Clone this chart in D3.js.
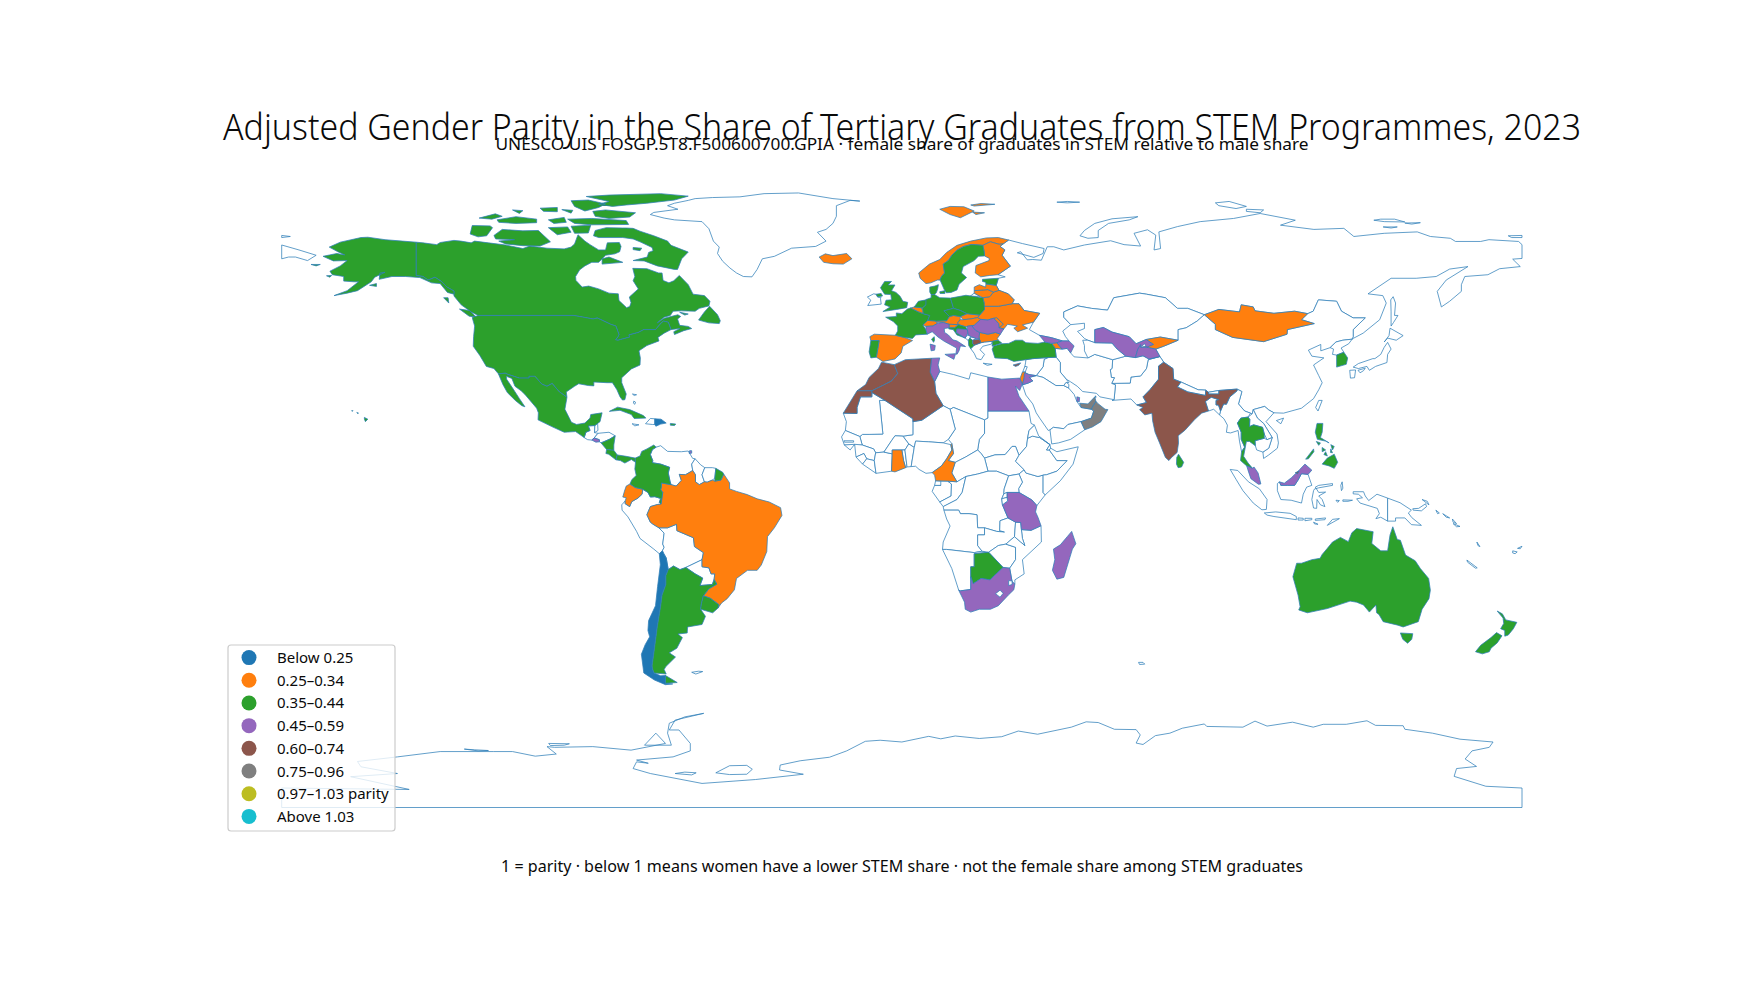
<!DOCTYPE html>
<html><head><meta charset="utf-8">
<script src="https://cdn.jsdelivr.net/npm/d3@7"></script>
<style>html,body{margin:0;background:#fff}svg{display:block}text{font-family:"Noto Sans",sans-serif;fill:#0a0a0a}</style>
</head><body><svg id="c" width="1760" height="990"></svg>
<script>
const chartTitle="Adjusted Gender Parity in the Share of Tertiary Graduates from STEM Programmes, 2023";
const chartSubtitle="UNESCO UIS FOSGP.5T8.F500600700.GPIA · female share of graduates in STEM relative to male share";
const chartNote="1 = parity · below 1 means women have a lower STEM share · not the female share among STEM graduates";
const tierLabels=["Below 0.25","0.25–0.34","0.35–0.44","0.45–0.59","0.60–0.74","0.75–0.96","0.97–1.03 parity","Above 1.03"];
const tierColors=["#1f77b4","#ff7f0e","#2ca02c","#9467bd","#8c564b","#7f7f7f","#bcbd22","#17becf"];

// Each entry: [name, ring, ring...]; a ring is a flat list lon,lat,lon,lat...
const noData=[
["Antarctica",[180,-84.5,169.5,-84,160.3,-81.2,161,-79,166.8,-78.4,163.5,-76.3,165.5,-74,170.5,-73,171.6,-71.5,162,-70.7,154,-69,146,-67.9,145.5,-66.9,137.5,-66.8,135,-65.5,129,-66.5,122.3,-66.5,119.4,-67.3,113.4,-65.9,106,-67,102.5,-65.6,99,-67.3,88.5,-67.1,87.8,-66.4,81.4,-67.6,77.8,-69,73.6,-69.7,70,-72.2,68,-71.8,69.2,-69.5,68,-68,61.7,-67.9,57,-66,53.5,-65.8,49.2,-67.3,39.4,-69.3,33.8,-68.4,29,-70,22.5,-70.5,15.5,-69.8,11.3,-70.6,7.8,-69.9,0,-71.5,-6.3,-71,-10.6,-71.3,-16,-74,-21,-75.8,-29.5,-76.8,-35.3,-78,-35.5,-79.4,-28.6,-80.6,-42.5,-82.1,-58,-83.2,-73,-80.4,-78,-79,-77,-77.1,-73.6,-77.5,-77,-76.6,-66.4,-75.7,-61.4,-74,-61.4,-71.9,-64.7,-68.1,-67.5,-68.1,-65.8,-65.3,-57.5,-63.4,-63,-64.4,-67.5,-66.2,-68,-69,-66.9,-72.4,-74.7,-72.4,-71.4,-69,-68.6,-71.9,-78.6,-73.8,-89.7,-72.8,-100.8,-73,-103,-72.8,-100.3,-74.9,-106.4,-75.5,-113,-74.2,-118.6,-74.2,-134,-74.2,-146.4,-75.7,-158,-77,-157,-78.5,-146.4,-80.4,-160,-81.3,-143,-84.9,-180,-84.5,-180,-90,180,-90],
 [-65.8,-80.4,-63,-80,-59.7,-80.2,-61,-80.8],[-54,-80.2,-50,-78.2,-45,-78.1,-43.4,-79.2,-45,-80.6,-50,-80.7],[-127,-73.5,-124,-73.7,-120,-73.9,-123,-74],[-102.5,-71.9,-96.5,-72,-98,-72.4,-102,-72.5]],
["Greenland",[-46,60,-43.5,59.9,-42,62,-40.5,65,-37,65.7,-32,68,-25,68.5,-22,70,-24.5,72.5,-22,73.3,-20,75,-19,77,-19,80,-15,81.5,-12.2,81.3,-20,82,-30,83.6,-40,83.4,-47,82.5,-55,82.3,-60,82,-62,81.5,-66,80.7,-68,80,-65,79,-72,78.1,-73,77.5,-69,76.5,-66,76,-58,75.5,-56,73.5,-54.7,70,-53,68.3,-53.5,66.5,-52,64.3,-49.9,62.4,-48,61]],
["Russia",[31,70.3,35,69.3,41.3,67.9,41,66.5,38.3,65.4,33.5,66.7,34.5,67,36.4,64.7,38,64.8,40.5,64.6,42.2,68.4,44.1,68.4,47,67.5,53,68.9,60.6,70.1,64.5,69,69.3,68.6,67.4,72.2,71.3,73.2,73.7,71.7,73.2,67.5,75.1,67.9,74.6,72.6,80,74.1,86.6,75.5,96.3,76.4,104,77.8,114.2,75.9,109.9,74.5,119.6,73.3,128.3,73.6,131.2,71.3,140,72.2,149.6,72.6,153.4,71.3,159.2,70.8,160.7,69.9,168,69.9,170.4,70.4,179,69.9,180,69,180,65.1,177.3,64.9,179.5,62.8,173.5,62.2,170.1,60.5,163.4,60,162.4,57.7,162.4,55.8,159,53,156.6,51.4,155.4,55.8,158,59,164.3,62.8,159,62.1,155.1,60,149.3,59.5,142,59.5,135.3,55.1,139.6,54.6,140.6,52.5,138.7,47.8,133.9,44,131,42.5,130.7,42.3,131,43,131,45,134.5,48.3,131,48.3,127.6,50.2,126.2,53,120.9,53.4,119.4,50.2,117.8,49.5,114,50.2,108,49.6,102.5,50.3,102,51.4,98.5,52,98,50,92,50.7,87.8,49.2,83,51,80,51,76.5,54,71,55,69,55.3,61.5,54,59.7,50.5,55,51,51,51.7,47,50,47,48.5,49,46.4,46.7,44.6,47.5,43,48.5,41.8,46.6,41.8,43.5,42.7,39.9,43.4,37,45,38.2,47.1,40,49.6,35.5,50.4,34,52.3,32,52.3,32.6,53.4,30.9,55.1,28.2,56.1,27.4,57.5,28,59.5,30,59.9,27.9,60.5,31.5,62.9,29.1,66,29.9,67.5,28.5,68.5,29.4,69.2],
 [-180,68.9,-175,67.5,-170,66,-172.5,64.5,-176,65.5,-178,65.5,-180,65],[21,55.3,22.7,54.4,19.8,54.4],[142.6,54.3,143.3,52.5,143,49,144,49,142.7,47,142,46,142,50,141.9,53.4],[51.7,71.5,53,73,56,75,61,76.3,68.5,76.9,66,76,60,75,57,73,57,71,54,70.8],[91,80.8,95,81.2,100,79.8,97,79.2,92,80],[100,79,105,78.8,104,78,100,78.4],[137,75.9,140,75.5,146,75.4,143,76.2,139,76.2],[146,75.1,150.5,75.2,148,74.8],[139.7,74,143.8,74,142,73.7],[176,71.5,180,71.6,180,71,177,71],[-180,71.6,-177.5,71.3,-180,71],[45,81,48,80.8,51.6,81,48,81.2]],
["Ireland",[-6.2,53.8,-6,52.2,-9.9,51.8,-9,53.3,-10,54.2,-8.2,55.1,-7.5,55,-7,54.2,-6,54]],
["Kazakhstan",[47,50,51,51.7,55,51,59.7,50.5,61.5,54,69,55.3,71,55,76.5,54,80,51,83,51,87.8,49.2,85.7,47.4,82.5,45.5,80.2,45,80.2,42,75,42.9,70.9,42.2,68,41,66,43,61,44.3,58.5,45.6,56,45,56,41.3,54,42,53,42.5,51,44.5,53,45.3,53,46.8,49,46.4,47,48.5]],
["China",[73.7,39.5,76,40.3,80.2,42,80.2,45,82.5,45.5,85.7,47.4,87.8,49.2,91,46.5,91,45,96,42.8,105,41.6,111.8,43.7,111.9,45,119.7,46.7,116,47.8,117.8,49.5,119.4,50.2,120.9,53.4,126.2,53,127.6,50.2,131,48.3,134.5,48.3,131,45,131,43,130.7,42.3,128,42,126,41.5,124.3,39.9,121.6,39,121.6,40.8,118,39.2,119,37.5,122.5,37,119.5,35,121,32,122,30,121,28,119.5,25.5,116,22.8,110.8,21.4,108,21.5,106.5,22.3,105.3,23.3,102,22.4,101.7,21.2,99.5,22,97.7,24,98.7,27.5,97.3,28.2,92,27.8,89,27.3,88.2,27.9,86,28,81,30.2,78.9,31,78.7,34,76,35.8,74.9,37.4],[121,25,122,25,120.8,22,120.1,23],[108.7,19.3,110.8,20,110,18.4]],
["Japan",[141,41.4,142,39.5,141,38,140.8,35.7,137.5,34.6,135.7,33.5,135,34.6,132.5,34,131,34.4,132.5,35.4,136.7,36.8,137.3,36.8,139,38,140,40],[130,33.5,131.7,33.6,131.4,31.4,130.2,31.3],[132.4,33.5,134.5,34.1,134,33.4,133,32.8],[140,41.5,141.4,43.3,141.7,45.4,145.5,43.3,143.5,42,141,42.6]],
["North Korea",[124.3,39.9,125.3,39.5,125,38,126.2,37.8,128.3,38.6,127.5,39.8,129.7,41,130.7,42.3,128,42,126,41.5]],
["Vietnam",[102,22.4,105.3,23.3,106.5,22.3,108,21.5,105.7,19,108.9,15.5,109.3,13,109,11.5,106.5,9.6,105,8.6,104.8,10.4,106.5,11.5,107.5,14.5,105,18.5,103.2,20]],
["Laos",[102,22.4,103.2,20,105,18.5,107.5,14.5,106,13.9,105.2,15.5,104.7,17.4,102.1,18.1,100.9,17.6,101,19.6,100.5,20.3,101.7,21.2]],
["Cambodia",[102.5,13.6,105.2,14.3,106,13.9,107.5,14.5,106.5,11.5,104.8,10.4,103,11,102.6,12.2]],
["Indonesia",[109,1.5,109.6,2,110,1,112,1,114,1,115,2.5,116,4.3,117.9,4.1,119,1,117.5,0.5,116.5,-1.5,116,-4,113,-3.2,110,-3,109,-0.5],[95.3,5.5,97.5,5.2,100.6,2,103.8,0,106,-3,105.8,-5.8,104.5,-5.9,102,-4,99,-0.5,97,2.7],[105.2,-6.8,108.5,-6.5,112.7,-6.9,114.5,-7.8,114.5,-8.7,108,-7.8,106,-7.4],[119.5,-5.4,120.4,-5.5,120.5,-3,121.5,-4.5,122.8,-5,122,-3,121,-2,123,-0.9,121,-1,120,0.5,121,1,125,1.5,125,1,121,0.3,119.8,0,119.5,-0.5,119,-3],[127.8,2,128,0.2,127.6,-0.5,127.4,1],[115,-8.2,116.5,-8.3,116.5,-8.8,115,-8.8],[117,-8.3,119,-8.3,119,-8.7,117,-9],[120,-8.5,123,-8.2,122.8,-8.7,120,-8.9],[123.5,-10.3,127,-8.4,125,-8.6],[119.5,-9.4,120.8,-10,119.8,-9.9],[128,-3.1,130.8,-3.2,129.5,-3.5,128,-3.5],[126,-3.2,127,-3.3,126.5,-3.8],[131,-0.8,134,-0.8,134.5,-2,135.5,-3.3,137.9,-1.5,141,-2.6,141,-9.1,139,-8,137.6,-8.4,138.6,-7,138,-5.5,133,-4,132,-2.8,133.7,-2.5,132.5,-1.5,131,-1.4]],
["Papua New Guinea",[141,-2.6,144.6,-3.9,147.9,-6,147,-6.8,148,-8.1,150.8,-10.3,147.9,-10.1,146,-8.2,143.3,-8.2,143.3,-9.1,141,-9.1],[148.3,-5.6,150,-5.5,152,-4.2,152.3,-5,150.8,-6.2,148.4,-6],[151,-3,153,-4.5,152.5,-3.5]],
["Solomon Islands",[155,-6,156,-6.8,155.5,-7],[157,-7,159,-8.2,158,-8],[159.8,-8.5,161,-9.8,160,-9.4],[160,-9.8,162,-10.6,161,-10.7]],
["Vanuatu",[166.9,-15,167.8,-16.3,167.2,-16]],["New Caledonia",[164,-20.1,167,-22.3,166.5,-22.4,164.2,-20.7]],["Fiji",[177.3,-17.5,178.6,-17.8,178,-18.3,177.3,-18.1],[178.7,-16.8,180,-16.2,179.5,-16.9]],
["Myanmar",[92.2,20.9,92.5,22,93.4,24,94.2,23.9,95.2,26,97.3,27.7,97.3,28.2,98.7,27.5,97.7,24,99.5,22,101.2,21.4,100.5,20.3,98.4,20,97.4,18.6,98.5,16,98.5,14,99.5,11.8,98.6,10.5,98,13.5,97.6,16.5,95.4,15.8,94.2,16,94.5,18,93.5,19.8]],
["Bangladesh",[88.1,24.7,89.8,25.9,92,25.2,91.2,25,91.2,23.7,91.9,23.7,92.5,22,92.2,20.9,90.5,22.5,89,22]],
["Nepal",[81,30.2,86,28,88.2,27.9,88.1,26.4,83,27.4,80,28.8]],["Bhutan",[89,26.8,89,27.3,92,27.8,92,26.8]],
["Pakistan",[61,25,61.6,25.2,62,29.4,60.9,29.8,66.3,29.9,66.5,31.6,69.3,31.9,71,34,71.5,36.5,74.9,37.4,76,35.8,74.5,34.7,74.5,33,74.5,31,72,28,70,26,71,24.4,68.2,23.7,66.5,25.4]],
["Afghanistan",[60.9,29.8,66.3,29.9,66.5,31.6,69.3,31.9,71,34,71.5,36.5,74.9,37.4,71.7,36.7,70,37.6,67.8,37.1,65,37.5,61.2,36.5,61,34,60.5,33.7,60.8,31.5,61.7,31.4]],
["Iran",[44.5,39.7,44.8,37.2,46,35.7,46,33,47.7,31,48.9,30.3,50.9,29,52.5,27.5,56.5,27,57.5,26,61.6,25.2,62,29.4,60.9,29.8,61.7,31.4,60.8,31.5,60.5,33.7,61,34,61.2,36.5,56,38,54,37,50,37.3,49,38.4,48,39.7,46.5,39.5]],
["Iraq",[42.4,37.1,44.8,37.2,46,35.7,46,33,47.7,31,48.5,30,47.7,30.1,47,29.2,44.7,29.2,41,31.5,39,32,41,34.5,41.3,36.6]],
["Syria",[36,36.5,38,36.8,42.4,37.1,41.3,36.6,41,34.5,39,32,36.9,32.3,35.8,32.8,35.7,34.6,35.9,35.6]],
["Lebanon",[35.1,33.1,35.7,34.6,36.4,34.5,35.8,33]],
["Saudi Arabia",[35,29.4,36.7,29.9,38,30.5,37,31.5,39,32,41,31.5,44.7,29.2,47,29.2,48.4,28.5,50,26.7,50.8,24.7,52,23,55,22.5,55.7,22,55,20,52,19,48.2,18.2,47,17,44,17.4,43,16.7,42.5,16.5,40,20,39,21.5,38,24,36,26.5]],
["Yemen",[43,16.7,44,17.4,47,17,48.2,18.2,52,19,53.1,16.7,49,14,45.5,13,43.5,12.7]],
["Kuwait",[47.7,30.1,48.5,29.5,48.4,28.5,47,29.2]],
["Turkmenistan",[52.5,42,54,42,56,41.3,61,41.2,62.5,39.5,65,37.5,61.2,36.5,56,38,54,37,53,39,53,40.5]],
["Greece",[20,39.6,21,40.6,23,41.3,24,41.5,26.3,41.7,26,40.9,23.5,40.3,22.7,39.3,24,38,23,36.5,21.7,36.8,21,38.3],[23.6,35.5,26.2,35.2,24.8,34.9]],
["Montenegro",[19.2,43.5,20.3,42.9,19.7,42.6,19.3,41.9,18.4,42.6,18.6,43]],["Kosovo",[20.3,42.9,21.6,42.5,20.8,42.1,20.5,42,19.7,42.6]],
["Guatemala",[-92.2,14.5,-91.7,16,-90.5,16.5,-91,17.8,-89.1,17.9,-89.2,15.9,-88.2,15.7,-89.3,14.4,-90,13.8,-91.2,13.9]],
["Belize",[-89.1,17.9,-88.3,18.5,-88.2,16.5,-89.2,15.9]],
["Honduras",[-89.3,14.4,-88.2,15.7,-85,16,-83.2,15,-84.9,14,-87.3,13,-87.8,13.3,-87.8,13.9]],
["Jamaica",[-78.3,18.4,-76.3,18.1,-77.5,17.8]],["Haiti",[-74.4,18.4,-73,19.9,-71.7,19.8,-71.7,18.2,-72.4,18.2]],
["Bahamas",[-78.2,26.8,-77,26.6,-77.7,26.4],[-77.8,24.8,-77.3,24.5,-77.5,23.9,-77.9,24.2]],
["Peru",[-80.3,-3.4,-81.3,-4.5,-81.2,-6,-79.5,-7.9,-77,-12,-76,-14,-72,-17,-70.4,-18.3,-69.5,-17.5,-69,-16.5,-69.4,-15.6,-69,-12.5,-70.5,-11,-72.2,-10,-73,-9.4,-74,-7.3,-73,-5,-70.9,-4.4,-69.9,-4.3,-70.4,-3.8,-70,-2.7,-71.7,-2.2,-73,-2.3,-73.7,-1,-75.2,-0.1,-75.4,-1.5,-76.6,-2.6,-78.4,-3.6,-79,-5,-80.3,-4.2]],
["Venezuela",[-71.3,11.8,-70,12.2,-68,10.6,-64,10.5,-62,10.7,-60.7,8.6,-60,8.5,-61,7,-60.7,5.2,-62.8,4,-64.6,4.1,-64,2.4,-65.5,0.8,-67,1.2,-67.3,2.2,-67.8,4.5,-67.4,6.1,-70,7,-72.4,7.4,-72.3,8,-73,9.7,-72.4,11.1]],
["Guyana",[-60,8.5,-58.4,6.8,-57.2,6,-58,4,-57.3,2,-58.8,1.2,-59.9,2,-59.9,4,-60.7,5.2,-61,7]],
["Suriname",[-57.2,6,-55,6,-54,5.8,-54.3,3,-55,2.5,-56.5,1.9,-57.3,2,-58,4]],
["Bolivia",[-69.5,-17.5,-69,-16.5,-69.4,-15.6,-69,-12.5,-70.5,-11,-68,-11,-65.4,-10,-65.3,-11.8,-60.5,-13.8,-60.2,-16.3,-57.6,-18,-58,-20,-62.7,-22.2,-64.4,-22.8,-66.3,-21.8,-67.8,-22.8,-68.4,-19.5,-69.1,-18.3]],
["Paraguay",[-58,-20,-58,-22,-56,-22.3,-55.4,-24,-54.3,-24,-54.5,-25.6,-55,-27,-58.6,-27.3,-57.8,-25.2,-60,-24,-62.7,-22.2]],
["Falkland Islands",[-61,-51.8,-59,-51.5,-57.8,-51.6,-59.8,-52.3]],["Kerguelen",[68.7,-49,70,-49,70.5,-49.5,69,-49.6]],
["Libya",[11,33.2,15,32.3,19.5,31,20,32.8,25,31.6,25,20,24,19.5,15,23,14,22.5,12,23.5,9.9,27,9.5,30.3]],
["Sudan",[25,22,36.9,22,37.5,18.5,38.5,18,36.9,16.5,36.5,14.3,36.2,12,34,9.5,33,12,32,12,30,9.7,27,9.6,24,8.7,23,10,22,11,22.5,14,24,15.7,24,19.5,25,20]],
["South Sudan",[24,8.7,27,9.6,30,9.7,32,12,33,12,34,9.5,33,7.8,35.5,5.4,34,4.2,31,3.7,27.5,5,25,5]],
["Chad",[24,19.5,15,23,14,22.5,15.5,16.9,13.5,14,14.5,12.8,15,10,13.5,8,15.5,7.5,18.5,9,22,11,22.5,14,24,15.7]],
["Niger",[12,23.5,14,22.5,15.5,16.9,13.5,14,12,13,7.8,13.3,4,13.5,3.6,11.7,2,12.7,0.3,14.9,3.2,15.3,3.2,19,5.8,19.4]],
["Mali",[-4.9,25,3.2,19.8,3.2,15.3,0.3,14.9,-2,15,-3,13.6,-5.2,10.4,-7.6,10.2,-8.2,11.3,-11.5,12.4,-12.2,14.8,-11.4,15.4,-9.5,15.4,-5.5,15.5,-6.5,25]],
["Mauritania",[-8.7,27.2,-4.9,25,-6.5,25,-5.5,15.5,-9.5,15.4,-11.4,15.4,-12.2,14.8,-16.4,16.5,-16.1,19,-17,21.4,-13,21.3,-13,23,-12,26,-8.7,26]],
["Senegal",[-16.4,16.5,-12.2,14.8,-11.5,12.4,-16.7,12.4,-17.5,14.7]],["Gambia",[-16.8,13.6,-14,13.6,-14,13.2,-16.7,13.2]],
["Guinea-Bissau",[-16.7,12.4,-13.7,12.6,-15,11]],
["Guinea",[-13.7,12.6,-11.5,12.4,-8.2,11.3,-7.6,10.2,-8,8,-10.2,8.5,-11,10,-13.3,9]],
["Sierra Leone",[-13.3,9,-11,10,-10.2,8.5,-11.4,7]],["Liberia",[-11.4,7,-10.2,8.5,-8,8,-7.5,4.4]],
["Ivory Coast",[-8,8,-7.6,10.2,-5.2,10.4,-2.8,9.9,-3,5,-7.5,4.4]],
["Burkina Faso",[-5.2,10.4,-3,13.6,-2,15,0.3,14.9,2,12.7,0.9,11,-2.8,11,-2.8,9.9]],
["Togo",[0,11,0.9,11,1.5,6.2,1.1,6,0.5,8]],["Benin",[0.9,11,2,12.7,3.6,11.7,2.7,6.3,1.5,6.2]],
["Nigeria",[2.7,6.3,3.6,11.7,4,13.5,7.8,13.3,12,13,14.2,12.5,14.5,11,13,8.5,11.5,6.5,8.8,4.6,7,4.4,5,5.5,4,6.4]],
["Central African Republic",[15.5,7.5,18.5,9,22,11,23,10,24,8.7,25,5,22,4.2,18.6,3.5,16,2,14.5,4.5]],
["Gabon",[9.8,2.3,11.3,2.2,13.3,2.2,14.4,1.4,14.3,-2,11,-3.7,8.8,-0.7,9.5,1,11.3,1]],["Equatorial Guinea",[9.5,1,9.8,2.3,11.3,2.2,11.3,1]],
["Congo",[13.3,2.2,16,2,18.6,3.5,17.5,-1,16,-3,12,-5,11,-3.7,14.3,-2,14.4,1.4]],
["DR Congo",[12.2,-6,12,-5,16,-3,17.5,-1,18.6,3.5,22,4.2,25,5,27.5,5,31,3.7,29.7,0,29.6,-1.4,29,-2.8,29.2,-4.5,30.8,-8.2,28.5,-9,28.4,-11.8,29.8,-12.2,27.5,-12,24,-11,22,-11,21.8,-7.3,19.5,-7,17,-7,16.5,-6]],
["Angola",[12.2,-6,16.5,-6,17,-7,19.5,-7,21.8,-7.3,22,-11,24,-11,24,-13,22,-13,22,-16,23.3,-17.6,21,-18,13,-17.1,11.8,-17.1,12,-15,14,-10.5,13,-8.5]],
["Namibia",[11.8,-17.1,13,-17.1,21,-18,23.3,-17.6,25.2,-17.9,21,-18.3,21,-22,20,-22,20,-28.4,17,-28.8,16.5,-28.6,14.5,-22.5]],
["Zambia",[22,-13,24,-13,24,-11,27.5,-12,29.8,-12.2,28.4,-11.8,28.5,-9,30.8,-8.2,33,-9.4,32.7,-13.5,30.2,-15.6,28,-16,25.2,-17.9,23.3,-17.6,22,-16]],
["Zimbabwe",[25.2,-17.9,28,-16,30.2,-15.6,33,-16.5,33,-20,31.3,-22.4,29.4,-22.2]],
["Mozambique",[30.2,-15.6,32.7,-13.5,34.5,-15,35.7,-16,35,-14,34.7,-11.5,37.5,-11.7,40.4,-10.4,40.5,-15,35,-20,35.5,-24,32.8,-25.7,32.8,-26.9,32,-26.2,31.3,-22.4,33,-20,33,-16.5]],
["Malawi",[33,-9.4,34.5,-9.5,34.7,-11.5,35,-14,35.7,-16,34.5,-15,32.7,-13.5]],
["Kenya",[34,-1,33.9,0.1,35,1.9,34,4.2,35.5,5.4,36,4.5,39.5,3.5,41,3.9,41,-1,41.6,-1.7,39.2,-4.7,37.7,-3.1]],
["Uganda",[29.6,-1.4,30.5,-1,34,-1,33.9,0.1,35,1.9,34,4.2,31,3.7,29.7,0]],
["Ethiopia",[36.5,14.3,37.9,14.9,40,14.5,43,12.5,42,11,42.8,11,45,8,48,8,45,5,42,4,41,3.9,39.5,3.5,36,4.5,35.5,5.4,33,7.8,34,9.5,36.2,12]],
["Eritrea",[36.5,14.3,36.9,16.5,38.5,18,39.7,15,43,12.5,40,14.5,37.9,14.9]],["Djibouti",[42,11,43,12.5,43.2,11.5,42.8,11]],
["Somalia",[42.8,11,43.2,11.5,45,10.5,51.2,11.9,49.7,7,46,2.3,41.6,-1.7,41,-1,41,3.9,42,4,45,5,48,8,45,8]]
];
const tierBelow025=[
["Chile",[-69.5,-17.5,-70.4,-18.3,-70.1,-21.4,-70.9,-27.6,-71.5,-33,-73.5,-37.2,-73.7,-40,-73.2,-41.8,-74.5,-44,-75.6,-46.7,-74.9,-52,-71.8,-54,-68.6,-55.3,-66.5,-55.1,-68.6,-54.9,-68.6,-52.7,-70,-52.8,-71.9,-52,-72.3,-51,-72.5,-50,-71.8,-45,-71,-39,-70,-33,-69.6,-30,-68.5,-27,-68.5,-24.5,-67.8,-22.8,-68.4,-19.5,-69.1,-18.3]],
["Dominican Republic",[-71.7,19.8,-69.9,19.7,-68.4,18.6,-70,18.3,-71.4,17.7,-71.7,18.2]]
];
const tier025to034=[
["Ecuador",[-78.9,1.4,-77.4,0.4,-75.2,-0.1,-75.4,-1.5,-76.6,-2.6,-78.4,-3.6,-79,-5,-80.3,-4.2,-80.3,-3.4,-80,-2.5,-81,-2.3,-80.5,-0.6,-80,0.8]],
["Brazil",[-69.8,1.7,-67,1.2,-65.5,0.8,-64,2.4,-64.6,4.1,-62.8,4,-60.7,5.2,-59.9,4,-59.9,2,-58.8,1.2,-57.3,2,-56.5,1.9,-55,2.5,-54.3,2.2,-52.5,2.5,-51.7,4.2,-50,1.7,-50,0,-48,-0.7,-44.9,-1.6,-42,-2.8,-38.5,-3.7,-35.2,-5.3,-34.8,-7.5,-37,-11,-39,-13.5,-39.2,-17.7,-40.8,-21.5,-42,-23,-44.8,-23,-48,-25.3,-48.6,-28.5,-50.7,-31,-52.3,-32.2,-53.4,-33.7,-53.1,-32.7,-55.6,-30.9,-57.6,-30.2,-56,-28.2,-53.7,-26.9,-54.5,-25.6,-54.3,-24,-55.4,-24,-56,-22.3,-58,-22,-58,-20,-57.6,-18,-60.2,-16.3,-60.5,-13.8,-65.3,-11.8,-65.4,-10,-68,-11,-70.5,-11,-72.2,-10,-73,-9.4,-74,-7.3,-73,-5,-70.9,-4.4,-69.9,-4.3,-69.4,-1,-70,-0.2,-69.8,0.6]],
["Iceland",[-24,65.5,-22.2,66.4,-20,65.9,-16,66.5,-14.5,65,-17,63.5,-20,63.6,-22.7,64]],
["Norway",[4.9,61,5.3,59.5,7,58,8.4,58.2,10.3,59,11.1,59,11.5,60,12.4,61,12,63.5,13.5,64.5,14.5,66,16.1,67.5,18,68.5,20,69,21,69,23.5,68.8,25.7,69.8,28.2,69.1,29.4,69.2,31,70.3,28,71,24.5,70.9,20,70,16,68.8,13,66.8,11,64.8,8,63.5],[11,79,14,77.5,17,76.6,21,78.5,18,79.7,14,79.8],[20,80.2,23,80.6,27,80.4,21,79.9],[20.5,78.2,24,78,21.5,77.5]],
["Finland",[23.9,67,24,65.8,25.4,65.1,25.3,64.5,21.5,63.1,21.3,61,22.9,59.9,25.5,60.3,27.9,60.5,31.5,62.9,29.1,66,29.9,67.5,28.5,68.5,29.4,69.2,28.2,69.1,25.7,69.8,23.5,68.8]],
["Spain",[-9,41.9,-6.6,41.9,-6.9,40,-7.4,37.2,-5.5,36,-2,36.7,-0.2,38.4,0.3,40.3,3.1,41.9,0.7,42.8,-1.9,43.4,-8,43.7,-9.3,43]],
["Belgium",[2.5,51.1,3.6,51.4,5.6,51.2,6.1,50.4,6.2,49.5,4.8,50]],
["Slovakia",[17,48.7,18.9,49.5,22.6,49.1,22,48.4,20,48,17.8,47.8]],
["Austria",[10,47.4,13,47.5,13.8,48.7,15,49,17,48.7,16.9,47.8,16.2,46.9,16.5,46.4,13.7,46.5,12,47,9.6,47.1]],
["Switzerland",[6.1,46.3,7.5,47.6,9.6,47.5,10.4,46.8,9,46,7,45.9]],
["Hungary",[16.2,46.9,16.9,47.8,17.8,47.8,20,48,22,48.4,22.9,47.9,21,46.2,18.5,45.8,16.5,46.4]],
["Slovenia",[13.7,46.5,16.5,46.4,15.3,45.5,13.7,45.5]],
["Bulgaria",[22.6,44.2,25,43.7,27.2,44.2,28.6,43.7,27.7,42.5,28,42,26.3,41.7,24,41.5,23,41.3,22.5,42.3,22.4,43]],
["Moldova",[26.6,48.2,27.5,48.4,29.5,46.5,28.2,45.5,28.1,46.7]],
["Ukraine",[24,50.7,23.5,51.6,28,51.6,32,52.3,34,52.3,35.5,50.4,40,49.6,38.2,47.1,35,46.3,36.5,45.4,33.6,44.4,32.5,45.4,33.5,46,30.7,46.5,29.6,45.2,28.2,45.5,29.5,46.5,27.5,48.4,26.6,48.2,24.9,47.7,22.9,47.9,22,48.4,22.6,49.1]],
["Belarus",[23.5,54,25.5,54.3,26.6,55.6,28.2,56.1,30.9,55.1,32.6,53.4,32,52.3,28,51.6,23.5,51.6,23.9,52.5]],
["Lithuania",[21,56,25,56.3,26.6,55.6,25.5,54.3,23.5,54,22.7,54.4,21,55.3]],
["Latvia",[21,56,21,57,22.5,57.7,24.3,57,24.4,57.9,27.4,57.5,28.2,56.1,26.6,55.6,25,56.3]],
["Armenia",[43.5,41.1,45,41.3,46.5,39.5,44.5,39.7]],
["Kyrgyzstan",[69.3,40,71,40,73.7,39.5,76,40.3,80.2,42,75,42.9,70.9,42.2,73,40.8,71,40.3]],
["Mongolia",[87.8,49.2,92,50.7,98,50,98.5,52,102,51.4,102.5,50.3,108,49.6,114,50.2,117.8,49.5,116,47.8,119.7,46.7,111.9,45,111.8,43.7,105,41.6,96,42.8,91,45,91,46.5]],
["Ghana",[-2.8,11,0,11,0.5,8,1.1,6,-2,4.8,-3,5,-2.8,9.9]],
["Cameroon",[8.8,4.6,11.5,6.5,13,8.5,14.5,11,14.2,12.5,14.5,12.8,15,10,13.5,8,15.5,7.5,14.5,4.5,16,2,13.3,2.2,9.8,2.3,9.5,3.9]],
["Israel and Palestine",[34.3,31.2,35,33,35.8,33,35.5,31.4,35,29.5]]
];
const tier035to044=[
["Canada",[-141,69.7,-139,69.5,-135,69,-134,69.6,-130,70.2,-128,70,-125,69.5,-124,70,-120,69.5,-115,68.9,-110,67.9,-108,68.6,-103,68,-98,67.8,-96,68.3,-95,69.2,-94,71.8,-92,70,-90.5,69,-88,67.5,-86,67.5,-85.5,69.5,-82,69.6,-81.5,68.5,-81.9,67,-83.3,66.4,-86,66,-87,65,-88,64,-90,64,-92,63,-93.5,61.9,-94.7,60,-94.6,58.9,-92.8,57,-90.9,57.3,-88,56.5,-85,55.3,-82.3,55.1,-82.1,53.2,-81,52.2,-79.9,51.2,-79,51.5,-78.6,52.6,-79.1,54.2,-76.5,56.5,-78,58.8,-77.5,60,-78.1,62.3,-74,62.2,-70.6,61,-69.6,61,-69.3,58.9,-67.6,58.2,-66.2,58.8,-64.6,60.3,-62,57.7,-60.6,55,-57.3,54.6,-55.7,53,-56,51.7,-58.8,51,-60,50.2,-64,50.3,-66.4,50.2,-67.2,49,-69,48.5,-71,46.9,-69,48.2,-65,49.2,-64.2,48.7,-65.1,48,-64.5,46.2,-62,45.9,-61,45.3,-63.3,44.7,-66,43.6,-66.2,44.4,-64.4,45.3,-67,45,-67.8,47.1,-69.2,47.4,-70,46.7,-71.5,45,-74.9,45,-76.5,44.2,-79.2,43.5,-79,42.9,-82.4,42,-83.1,42.1,-82.4,43,-82.1,43.6,-83,46,-84.5,46.5,-88.4,48.3,-89.6,48,-93,48.6,-95.2,49,-123,49,-125,50,-127.9,52,-130,54.5,-130,55.9,-132,57,-133.5,58.5,-135.5,59.8,-137.5,59,-139,60,-141,60.3],
 [-80,73.7,-78,73.6,-76,72.8,-72,71.5,-68,70,-67,68.8,-62,66.9,-63.9,65,-65.1,62,-66,62,-71,63,-74.8,64.4,-78,64.5,-73.9,65.5,-73.5,66.8,-72.2,67.3,-72.5,68.2,-76,69.8,-78,70.6,-81,71,-88,71,-89.5,71.5,-89,73,-85.8,73.8,-81,73.7],
 [-105.5,73,-102,69.8,-105,68.6,-110,68.7,-115,69.2,-117,70,-112.4,70.4,-117.9,70.6,-118.4,71.6,-116,73.3,-110,72.9],
 [-125.3,72,-123,71.2,-120.5,71.5,-118.8,73.8,-119.5,74.3,-124.7,74.4],
 [-91.6,82.6,-85,83,-70,83.4,-62,82.7,-66,81.6,-74,80.7,-80,80.2,-84,79.8,-88,80.4,-85,81.2],
 [-89.7,78.4,-86,78.8,-77.3,78,-79,76.8,-85,76.4,-89,77],
 [-96,81.4,-91,81.6,-86,80.5,-88,79.5,-92,78.5,-95,79.8],
 [-97,76.2,-90,76.4,-80,75.8,-79.3,74.7,-90,74.6,-95,75],
 [-102.6,76,-98,76.7,-97.4,75.3,-101,75],[-105,79.3,-100,79.5,-100,78.3,-104,78.4],[-98.7,78.9,-95.5,78.7,-96,77.9],[-113,78.8,-110,78.6,-111,77.8],[-122.7,76.5,-118,77.7,-116,77,-119,76.2],
 [-117.5,76,-112,76.9,-106,76.2,-106,75.2,-112,75,-117,75.3],
 [-102.6,73.8,-97,74,-96,72.5,-100,71.8],[-96,74.2,-90.3,74.5,-91,72.3,-95,72.2],[-85,65.5,-81,64,-87,63.5,-87,65],[-78,68.2,-75.5,68,-76,67.3,-78,67.6],
 [-59,47.7,-56,46.9,-53,46.7,-52.7,47.5,-53.5,49.2,-55.8,51.6,-57.3,50],[-128.4,50.8,-125.5,50.4,-123.5,48.5,-125.6,48.8],[-133,54,-131.7,54,-131.5,52.5],[-64.5,49.9,-62,49.4,-63,49.1]],
["United States",[-123,49,-124.7,48.4,-124,46,-124.3,43,-124.4,40.3,-122.5,37.7,-120.6,34.6,-118.4,34,-117.1,32.5,-115,32.7,-114.8,32.5,-111,31.3,-108.2,31.3,-108.2,31.8,-106.5,31.8,-104.5,29.6,-103,29,-101.5,29.8,-99.5,27.5,-97.2,25.9,-97.4,27.4,-95,29,-93.8,29.7,-91,29.2,-89.4,29.1,-89.4,30.2,-85.6,30,-84,30,-82.7,28,-81.8,26,-81.1,25.1,-80.4,25.2,-80,26.8,-81.3,30,-81.3,31.4,-78.5,33.9,-76,35,-75.9,37,-76.3,39,-74,40.5,-70.5,41.8,-70.8,42.8,-69,44,-67,45,-67.8,47.1,-69.2,47.4,-70,46.7,-71.5,45,-74.9,45,-76.5,44.2,-79.2,43.5,-79,42.9,-82.4,42,-83.1,42.1,-82.4,43,-82.1,43.6,-83,46,-84.5,46.5,-88.4,48.3,-89.6,48,-93,48.6,-95.2,49],
 [-141,69.7,-141,60.3,-139,60,-137.5,59,-135.5,59.8,-133.5,58.5,-132,57,-130,55.9,-130,55,-131.9,55.5,-134,58,-136.5,58.2,-139.9,59.7,-144,60,-148,60,-151.7,59.2,-151.5,61,-150,61.2,-153,59.8,-154,58.5,-158,56,-161,55.3,-164.8,54.6,-161,56,-157.7,58.5,-159,58.5,-162,58.7,-162,60,-165.3,60.5,-166,61.5,-163,63,-161,64.5,-165,64.4,-168,65.7,-164,66.5,-161.7,66.1,-163.7,67,-166.2,68.3,-163,69.7,-157,71,-155,71.1,-150,70.4,-145,70],
 [-154.5,57.5,-152.5,58,-152.5,57.2],[-167,60.2,-165.5,60.3,-166,59.8],[-171.5,63.4,-168.8,63.4,-170,63],[-156,20.2,-155,19.7,-155.7,19,-156,19.7],[-158.2,21.6,-157.7,21.4,-158,21.3],[-159.7,22.1,-159.3,22.1,-159.5,21.9],[-67.2,18.5,-65.6,18.3,-66,17.9,-67.2,18]],
["Mexico",[-117.1,32.5,-115,32.7,-114.8,32.5,-111,31.3,-108.2,31.3,-108.2,31.8,-106.5,31.8,-104.5,29.6,-103,29,-101.5,29.8,-99.5,27.5,-97.2,25.9,-97.8,22.5,-95.9,18.8,-94.4,18.2,-92,18.6,-90.5,20,-90.3,21,-87,21.5,-87.6,19,-88.3,18.5,-89.1,17.9,-91,17.8,-90.5,16.5,-91.7,16,-92.2,14.5,-94.7,16.2,-98,16,-101.6,17.6,-105.6,19.5,-105.5,21.5,-106,22.8,-109.4,26.7,-110.5,27.7,-112.3,29,-113.2,31.2,-114.8,31.8,-114.7,31,-112.8,28.2,-111,25.5,-109.4,23.2,-110.3,23.5,-112.2,25,-114.5,27.2,-115.8,29.5]],
["Cuba",[-84.9,21.9,-82.5,23.1,-79,22.4,-75,20.7,-74.3,20,-77.7,19.9,-78.5,21,-81.8,22.2]],
["Nicaragua",[-87.3,13,-84.9,14,-83.2,15,-83.6,12.4,-83.6,10.9,-85.7,11.1]],
["Costa Rica",[-85.7,11.1,-83.6,10.9,-82.6,9.6,-83,8.2,-85.1,9.8,-85.9,10]],
["Panama",[-83,8.2,-82.6,9.6,-80,9.2,-77.4,8.7,-77.3,7.5,-78.5,8.3,-80.4,7.3,-81.7,8]],
["Colombia",[-77.4,8.7,-76,9.3,-75.5,10.6,-74,11.3,-72,12.4,-71.3,11.8,-72.4,11.1,-73,9.7,-72.3,8,-72.4,7.4,-70,7,-67.4,6.1,-67.8,4.5,-67.3,2.2,-67,1.2,-69.8,1.7,-69.8,0.6,-70,-0.2,-69.4,-1,-69.9,-4.3,-70.4,-3.8,-70,-2.7,-71.7,-2.2,-73,-2.3,-73.7,-1,-75.2,-0.1,-77.4,0.4,-78.9,1.4,-78.4,2.6,-77.1,3.8,-77.5,5.6,-77.3,7.5]],
["France",[-1.9,43.4,0.7,42.8,3.1,42.5,4,43.5,7.4,43.7,7,45,6.1,46.3,7.5,47.6,8.1,49,6.2,49.5,4.8,50,2.5,51.1,1.6,50.8,0,49.5,-1.6,49.7,-1.6,48.7,-4.7,48.5,-2.5,47.3,-1.2,46,-1.2,44.6],[8.6,42.3,9.4,43,9.5,42,9.2,41.4],[-54,5.8,-52,4.7,-51.7,4.2,-52.5,2.5,-54.3,2.2,-54.3,3]],
["Argentina",[-67.8,-22.8,-66.3,-21.8,-64.4,-22.8,-62.7,-22.2,-60,-24,-57.8,-25.2,-58.6,-27.3,-55,-27,-54.5,-25.6,-53.7,-26.9,-56,-28.2,-57.6,-30.2,-58.2,-32.5,-58.4,-34,-57,-36,-58,-38.3,-62.2,-39,-62.3,-40.7,-65,-41,-63.7,-42,-65.3,-45,-67.5,-46.3,-65.7,-47.5,-68.5,-50.2,-69,-51,-68.4,-52.3,-71.9,-52,-72.3,-51,-72.5,-50,-71.8,-45,-71,-39,-70,-33,-69.6,-30,-68.5,-27,-68.5,-24.5],[-68.6,-52.7,-65.2,-54.7,-68.6,-54.9]],
["Uruguay",[-57.6,-30.2,-55.6,-30.9,-53.1,-32.7,-53.4,-33.7,-54.9,-35,-58.4,-34,-58.2,-32.5]],
["Sweden",[11.1,59,12.3,56.3,12.9,55.4,14.3,55.5,16,56.2,16.6,57.8,18.8,59.7,17.3,61,17.8,62.8,21,64.5,22.2,65.7,24,65.8,23.9,67,23.5,68.8,21,69,20,69,18,68.5,16.1,67.5,14.5,66,13.5,64.5,12,63.5,12.4,61,11.5,60]],
["Denmark",[8.1,57,9.6,57.3,10.6,57.7,10.4,56.5,10,55.4,9.5,54.9,8.5,54.9,8.1,55.6],[11,55.7,12.5,56,12.5,55.2,11.1,55.2]],
["United Kingdom",[-3,58.6,-5,58.6,-6.2,56.8,-5,55,-3.2,54.9,-3,53.4,-4.6,53.3,-5,52,-3.4,51.4,-5.5,50.1,-1.5,50.7,1.4,51.2,1.7,52.7,0.3,53,-0.5,54.4,-1.7,55.5,-3,56,-2,57.6,-4,57.6],[-7.5,55,-6,55.2,-5.6,54.5,-7,54.2]],
["Portugal",[-9,41.9,-6.6,41.9,-6.9,40,-7.4,37.2,-9,37,-9.5,38.7]],
["Netherlands",[3.6,51.4,4.8,53,7.1,53.4,7,52,5.9,51,5.6,51.2]],
["Germany",[7,53.5,8.5,54,8.5,54.9,9.5,54.9,11,54,14.1,53.9,14.7,52,15,51,12.2,50.3,13.8,48.7,13,47.5,10,47.4,7.5,47.6,8.1,49,6.2,49.5,6.1,50.4,5.9,51,7,52]],
["Poland",[14.1,53.9,18.6,54.7,23.5,54,23.9,52.5,24,50.7,22.6,49.1,18.9,49.5,17,50.4,15,51,14.7,52]],
["Czechia",[12.2,50.3,15,51,17,50.4,18.9,49.5,17,48.7,15,49,13.8,48.7]],
["Croatia",[13.6,45.2,13.7,45.5,15.3,45.5,16.5,46.4,18.5,45.8,19,45,16,45.2,15.8,44.2,18.4,42.6,16,43.5,14.9,45]],
["Albania",[19.3,41.9,19.7,42.6,20.5,42,20.6,41,21,40.6,20,39.6,19.4,40.5]],
["Estonia",[23.4,59.2,28,59.5,27.4,57.5,24.4,57.9,24.3,58.4,23.4,58.6]],
["Turkey",[26.3,41.7,28,42,29,41.2,26.2,40.3],[26.2,39.5,27,37,30.6,36.8,32.5,36,36,36.5,38,36.8,42.4,37.1,44.8,37.2,44.5,39.7,43.5,41.1,41.5,41.5,39.5,41.1,36,41.3,35,42,33,42,31,41.1,29,41,26.7,40.4]],
["Thailand",[97.4,18.6,98.4,20,100.5,20.3,101,19.6,100.9,17.6,102.1,18.1,104.7,17.4,105.2,15.5,105.2,14.3,102.5,13.6,102.6,12.2,100.9,13.4,100,13.4,99.2,9.2,100.5,7.3,101.8,5.8,100.1,6.5,98.3,8,98.6,10.5,99.5,11.8,98.5,14,98.5,16]],
["Philippines",[120.5,18.5,122.2,18.5,122,16,121.5,14.5,124,13,123,13.5,120.6,14,120,16],[122,7,123.5,8.7,125.5,9.8,126.5,7.5,125.5,5.8,124,6.5],[117.2,8.4,119.5,11.3,119.6,10.5,118,8.5],[124.5,12.5,125.5,12,125,11],[122,11.7,123,11,122,10.5],[123,10.5,123.5,9.3,122.5,9.7],[124.5,11.3,125,10.2,124.4,10.3],[120.3,13.4,121.5,13,121,12.3]],
["South Korea",[126.2,34.4,126.2,37,126.2,37.8,128.3,38.6,129.4,37,129,35.2]],
["Sri Lanka",[79.8,8.9,80.3,9.8,81.8,7.5,81.2,6.2,80.2,6,79.7,7]],
["Botswana",[20,-22,21,-22,21,-18.3,25.2,-17.9,29.4,-22.2,26.8,-24.5,25.6,-25.7,23,-25.3,20.7,-26.8,20,-24.8]],
["Australia",[114.6,-21,113.5,-24.8,115,-30,115.6,-33.3,115.2,-34.2,117.7,-35,123.5,-33.8,130.1,-31.7,132,-32,134,-32.8,135.7,-34.8,137.6,-32.8,137.8,-35,138.5,-35.5,139.7,-37.5,144,-38.5,145.5,-39,149.9,-37.5,151,-34,153,-31,153.4,-28.6,152.9,-25.3,150.5,-22.5,149,-20.3,146.2,-18.7,144.7,-14.5,143.8,-14.3,142.5,-10.7,141.7,-13,141,-17.5,139,-17.5,136.4,-15.4,136.8,-12.1,132,-11.2,130.6,-12.4,129.6,-14.9,127.3,-13.7,125,-15,123.5,-16.8,122,-18.5,121.4,-19.6,119,-20,116,-21],[144.7,-40.7,148.3,-40.9,148,-42.5,146.8,-43.6,145.4,-42.5]],
["New Zealand",[172.8,-34.5,174.3,-35.3,175.3,-37,178.5,-37.7,177.5,-39.5,176,-41.3,175,-41.6,175,-40,173.8,-39.5,174.7,-38,174.5,-36.5],[172.6,-40.6,174.2,-41.5,172.8,-43.5,171,-45,170.5,-46,168.5,-46.6,166.5,-46,168,-44.2,171,-42]]
];
const tier045to059=[
["El Salvador",[-90,13.8,-89.3,14.4,-87.8,13.9,-87.8,13.3,-88.8,13.2]],
["Trinidad and Tobago",[-61.7,10,-61,10.1,-61,10.8,-61.6,10.8]],
["Italy",[7,45.9,9,46,10.4,46.8,12,47,13.7,46.5,13.7,45.5,12.3,45.3,12.4,44.2,13.5,43.5,14.8,42.1,16,41.8,18.5,40.2,17,40.4,16.6,39,16,38,15.7,38.2,15.9,39.8,14,40.8,12.3,41.7,10.5,42.9,8.8,44.4,7.4,43.7,7,45],[12.5,38,15.6,38.2,15.1,36.6],[8.2,40.9,9.7,40.5,9.5,39.2,8.5,39]],
["Bosnia and Herzegovina",[16,45.2,19,45,19.2,44,18.6,43,18.4,42.6,15.8,44.2]],
["Serbia",[19,46,20.3,46.1,21.4,44.8,22.6,44.2,22.4,43,22.5,42.3,21.6,42.5,20.3,42.9,19.2,43.5,19.2,44,19,45]],
["Romania",[20.3,46.1,21,46.2,22.9,47.9,24.9,47.7,26.6,48.2,28.1,46.7,28.2,45.5,29.6,45.2,28.6,43.7,27.2,44.2,25,43.7,22.6,44.2,21.4,44.8]],
["Georgia",[39.9,43.4,43.5,42.7,46.6,41.8,45,41.3,43.5,41.1,41.5,41.5]],
["Azerbaijan",[45,41.3,46.6,41.8,48.5,41.8,50,40.4,49,38.4,48,39.7,46.5,39.5]],
["Uzbekistan",[56,45,58.5,45.6,61,44.3,66,43,68,41,70.9,42.2,73,40.8,71,40,70.5,41,68.5,39.5,67.8,37.1,65,37.5,62.5,39.5,61,41.2,56,41.3]],
["Tajikistan",[67.8,37.1,70,37.6,71.7,36.7,74.9,37.4,73.7,39.5,71,40,69.3,40,69.3,40.8,68.5,39.5]],
["Tunisia",[8.6,36.9,11,37,10.5,35,11,33.2,9.5,30.3,8.2,33]],
["Egypt",[25,31.6,29,31,34.2,31.3,34.9,29.5,34.2,27.8,33,29,34,26.2,36.9,22,25,22]],
["Jordan",[35.5,32.4,35.8,32.8,36.9,32.3,39,32,37,31.5,38,30.5,36.7,29.9,35,29.4,35.5,31.4]],
["Qatar",[50.8,24.7,50.8,26,51.6,25.8,51.5,24.6]],
["Malaysia",[100.1,6.5,101.8,5.8,102.2,6.2,103.4,4.5,104.2,1.4,103.5,1.3,101.3,2.9,100.4,5.5],[109.6,2,111,1.6,113,3.1,114.8,4.8,115.5,5.5,117,7,119,5.3,117.9,4.1,116,4.3,115,2.5,114,1,112,1,110,1]],
["Tanzania",[30.5,-1,34,-1,37.7,-3.1,39.2,-4.7,38.8,-6.5,39.5,-8,40.4,-10.4,37.5,-11.7,34.7,-11.5,34.5,-9.5,33,-9.4,30.8,-8.2,29.2,-4.5,30.7,-3.4,30.5,-2.4]],
["South Africa",[16.5,-28.6,17,-28.8,20,-28.4,20,-24.8,20.7,-26.8,23,-25.3,25.6,-25.7,26.8,-24.5,29.4,-22.2,31.3,-22.4,32,-26.2,32.8,-26.9,32.5,-28.5,31,-29.9,28,-33,25.7,-34,22.5,-34,20,-34.8,18.4,-34,18.2,-32,17.2,-30]],
["Madagascar",[49.3,-12,50.5,-15.5,49.5,-17,47,-25,45,-25.5,43.7,-23,44.4,-20,44,-17,46,-15.8,48,-13.5]]
];
const tier060to074=[
["India",[76,35.8,78.7,34,78.9,31,81,30.2,80,28.8,83,27.4,88.1,26.4,88.2,27.9,89,27.3,89,26.8,92,26.8,92,27.8,97.3,28.2,97.3,27.7,95.2,26,94.2,23.9,93.4,24,92.5,22,91.9,23.7,91.2,23.7,91.2,25,92,25.2,89.8,25.9,88.1,24.7,89,22,87,21.4,85,19.6,82.2,16.6,80.2,15,80.3,13,79.9,10.3,78.3,8.9,77.5,8,76.5,8.9,74.8,13,73.5,16,72.8,19.2,72.6,21.4,70.5,20.9,69,22.4,70,23,68.2,23.7,71,24.4,70,26,72,28,74.5,31,74.5,33,74.5,34.7]],
["Morocco",[-5.9,35.8,-2.2,35.1,-1.2,32.6,-3,30.5,-5,29.5,-8.7,27.7,-13,27.7,-10.5,29.5,-9.5,31.5,-6.8,34]],
["Western Sahara",[-8.7,27.7,-13,27.7,-17,21.4,-13,21.3,-13,23,-12,26,-8.7,26]],
["Algeria",[-8.7,27.7,-5,29.5,-3,30.5,-1.2,32.6,-2.2,35.1,1,36.5,8.6,36.9,8.2,33,9.5,30.3,9.9,27,12,23.5,5.8,19.4,3.2,19,3.2,19.8,-4.9,25,-8.7,27.2]],
["North Macedonia",[20.6,41.9,20.8,42.1,22.5,42.3,23,41.3,21,40.6,20.6,41]],
["Cyprus",[32.3,35,34.5,35.6,33.9,34.9,33,34.6]],
["Brunei",[114.2,4.6,115.3,5,114.8,4.2]]
];
const tier075to096=[
["Oman",[52,19,55,20,55.7,22,55,22.5,55.2,23,56.3,24.8,56.8,24.2,59,22.5,59.8,22.4,57.8,19,55.3,17.5,53.1,16.7],[56.2,26.3,56.4,25.9,56.1,25.9]],
["United Arab Emirates",[51.6,24.2,54,24,56,26,56.3,24.8,55.2,23,55,22.5,52,23]]
];
// Small territories drawn last so they sit over the countries that surround them.
const enclaves=[
["Lesotho",[27.2,-29.6,28.5,-28.6,29.4,-29.5,28.5,-30.6]],
["Eswatini",[31,-25.9,32,-26,32,-27,31,-27.3]],
["Rwanda",[29,-2.8,30.5,-2.4,30.5,-1,29.6,-1.4]],
["Burundi",[29,-2.8,30.5,-2.4,30.7,-3.4,29.2,-4.5]]
];
const tierGroups=[tierBelow025,tier025to034,tier035to044,tier045to059,tier060to074,tier075to096];

const svg=d3.select("#c");
const lonScale=d3.scaleLinear().domain([-180,180]).range([281.7,1522]);
const latScale=d3.scaleLinear().domain([-90,0]).range([807.5,488.9]);
const ringLine=d3.line().x(d=>lonScale(d[0])).y(d=>latScale(d[1]));
const pairsOf=r=>d3.range(0,r.length,2).map(i=>[r[i],r[i+1]]);
const shapePath=c=>c.slice(1).map(r=>ringLine(pairsOf(r))+"Z").join("");
const mapLayer=svg.append("g").attr("stroke","#2f7fb8").attr("stroke-width",0.75).attr("stroke-linejoin","round");
const drawGroup=(list,fill)=>mapLayer.append("g").selectAll("path").data(list).join("path")
  .attr("d",shapePath).attr("fill",fill).attr("data-name",d=>d[0]);
drawGroup(noData,"#fff");
tierGroups.forEach((g,i)=>drawGroup(g,tierColors[i]));
drawGroup(enclaves,"#fff");

svg.append("text").attr("x",902).attr("y",139.5).attr("text-anchor","middle").attr("font-size",36).attr("font-weight",300).attr("textLength",1358).attr("lengthAdjust","spacingAndGlyphs").text(chartTitle);
svg.append("text").attr("x",902).attr("y",150).attr("text-anchor","middle").attr("font-size",16).attr("textLength",813).attr("lengthAdjust","spacingAndGlyphs").text(chartSubtitle);
svg.append("text").attr("x",902).attr("y",872).attr("text-anchor","middle").attr("font-size",16).attr("textLength",802).attr("lengthAdjust","spacingAndGlyphs").text(chartNote);

const legend=svg.append("g");
legend.append("rect").attr("x",228).attr("y",645).attr("width",167).attr("height",186).attr("rx",3)
  .attr("fill","#fff").attr("fill-opacity",0.8).attr("stroke","#ccc").attr("stroke-width",1.2);
const legendY=d3.scalePoint().domain(tierLabels).range([657.6,816.4]);
const row=legend.selectAll("g").data(tierLabels).join("g").attr("transform",d=>`translate(0,${legendY(d)})`);
row.append("circle").attr("cx",249).attr("r",7.5).attr("fill",(d,i)=>tierColors[i]);
row.append("text").attr("x",277).attr("y",5.5).attr("font-size",15).text(d=>d);
</script></body></html>
